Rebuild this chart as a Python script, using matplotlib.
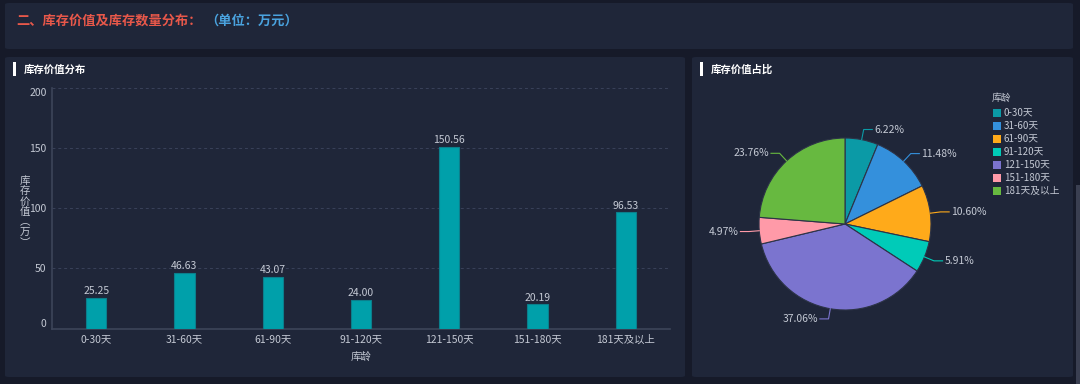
import matplotlib.pyplot as plt
import numpy as np
from matplotlib.patches import FancyBboxPatch, Rectangle

plt.rcParams['font.family'] = ['Noto Sans CJK SC', 'DejaVu Sans']

# 数据
categories = ['0-30天', '31-60天', '61-90天', '91-120天', '121-150天', '151-180天', '181天及以上']
values = [25.25, 46.63, 43.07, 24.00, 150.56, 20.19, 96.53]
y_ticks = [0, 50, 100, 150, 200]
pie_colors = ['#0b9aa6', '#3490dc', '#ffaa1a', '#00cbb8', '#7b74cf', '#ff9aa8', '#67b940']

W, H = 1080, 384
BG = '#161a29'
PANEL = '#1f2639'
TXT = '#c4c9d4'


def fx(x):
    return x / W


def fy(y):
    return 1 - y / H


def panel(x0, y0, x1, y1):
    p = FancyBboxPatch((fx(x0), fy(y1)), fx(x1 - x0), (y1 - y0) / H,
                       boxstyle='round,pad=0,rounding_size=0.004',
                       transform=fig.transFigure, fc=PANEL, ec='none', zorder=-5)
    fig.patches.append(p)


fig = plt.figure(figsize=(W / 100, H / 100), dpi=100, facecolor=BG)

panel(5, 3, 1073, 49)
panel(5, 57, 685, 377)
panel(692, 57, 1073, 377)
fig.patches.append(Rectangle((fx(1076), fy(384)), fx(4), 199 / H, transform=fig.transFigure,
                             fc='#3a3f51', ec='none', zorder=-5))

# 标题
t = fig.text(fx(16), fy(21), '二、库存价值及库存数量分布：', color='#e8584a',
             fontsize=9.5, fontweight='bold', va='center')
fig.canvas.draw()
bb = t.get_window_extent()
fig.text(bb.x1 / W + fx(4), fy(21), '（单位：万元）', color='#4aa3df', fontsize=9.5,
         fontweight='bold', va='center')

# 小标题
for x0, label in [(13, '库存价值分布'), (700, '库存价值占比')]:
    fig.patches.append(Rectangle((fx(x0), fy(76)), fx(3), 14 / H, transform=fig.transFigure,
                                 fc='white', ec='none'))
    fig.text(fx(x0 + 11), fy(70), label, color='white', fontsize=7.5, fontweight='bold', va='center')

# 柱状图
ax = fig.add_axes([fx(52), fy(328.7), fx(670 - 52), (328.7 - 87.7) / H])
ax.set_facecolor('none')
x = np.arange(len(categories))
ax.bar(x, values, width=0.23, color='#00a0aa', edgecolor='#0b7f8c', linewidth=0.8, zorder=3)
for xi, v in zip(x, values):
    ax.text(xi, v + 1.5, f'{v:.2f}', ha='center', va='bottom', color=TXT, fontsize=7.5)
ax.set_xlim(-0.5, len(categories) - 0.5)
ax.set_ylim(0, 200)
ax.set_yticks(y_ticks)
ax.set_xticks(x)
ax.set_xticklabels(categories, color=TXT, fontsize=7.5)
ax.tick_params(axis='y', colors=TXT, labelsize=7.5, length=0, pad=4)
ax.tick_params(axis='x', length=0, pad=4)
labels = ax.get_yticklabels()
labels[0].set_va('bottom')
labels[-1].set_va('top')
ax.grid(axis='y', color='#39415a', linestyle=(0, (3, 3)), linewidth=0.7, zorder=0)
for s in ['top', 'right']:
    ax.spines[s].set_visible(False)
for s in ['left', 'bottom']:
    ax.spines[s].set_color('#3d4559')
    ax.spines[s].set_linewidth(1.2)
ax.set_xlabel('库龄', color=TXT, fontsize=7.5, labelpad=5)
fig.text(fx(25), fy(212), '库\n存\n价\n值\n︵\n万\n︶', color=TXT, fontsize=7.5,
         ha='center', va='center', linespacing=1.05)

# 饼图
cx, cy, r = 845, 224, 86
half = 120
pax = fig.add_axes([fx(cx - half), fy(cy + half), fx(2 * half), 2 * half / H])
wedges, _ = pax.pie(values, colors=pie_colors, startangle=90, counterclock=False, radius=1,
                    wedgeprops=dict(edgecolor='#2c3347', linewidth=0.8))
lim = half / r
pax.set_xlim(-lim, lim)
pax.set_ylim(-lim, lim)
pax.set_aspect('equal')
pax.axis('off')
total = sum(values)
for w, v, c in zip(wedges, values, pie_colors):
    ang = np.deg2rad((w.theta1 + w.theta2) / 2)
    p0 = (np.cos(ang), np.sin(ang))
    p1 = (1.12 * np.cos(ang), 1.12 * np.sin(ang))
    side = 1 if np.cos(ang) >= 0 else -1
    p2 = (p1[0] + side * 0.1, p1[1])
    pax.plot([p0[0], p1[0], p2[0]], [p0[1], p1[1], p2[1]], color=c, lw=0.8, clip_on=False)
    pax.text(p2[0] + side * 0.02, p2[1], f'{v / total * 100:.2f}%', color=TXT, fontsize=7.5,
             ha='left' if side > 0 else 'right', va='center', clip_on=False)

# 图例
fig.text(fx(992), fy(97.5), '库龄', color=TXT, fontsize=7, va='center')
for i, (cat, c) in enumerate(zip(categories, pie_colors)):
    yy = 112.7 + 13 * i
    fig.patches.append(Rectangle((fx(993), fy(yy + 4)), fx(8), 8 / H, transform=fig.transFigure,
                                 fc=c, ec='none'))
    fig.text(fx(1004), fy(yy), cat, color=TXT, fontsize=7, va='center')

fig.savefig('out.png', dpi=100, facecolor=BG)
